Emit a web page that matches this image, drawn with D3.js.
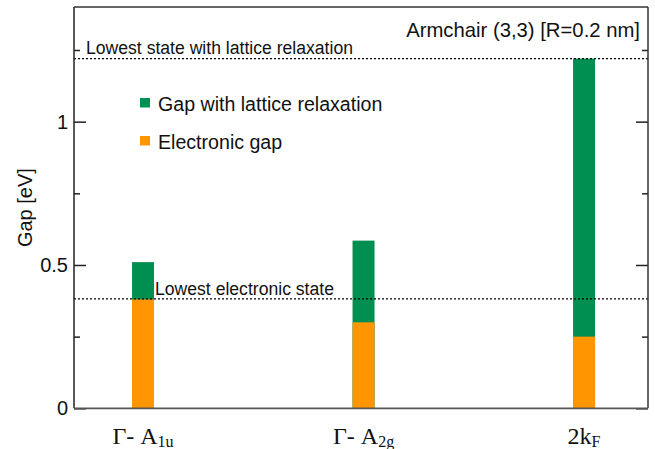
<!DOCTYPE html>
<html><head><meta charset="utf-8">
<script src="https://cdn.jsdelivr.net/npm/d3@7"></script>
<style>body{margin:0;background:#fff}svg{display:block}</style>
</head><body>
<script>
const labelMain = ["Γ- A", "Γ- A", "2k"];
const labelSub = ["1u", "2g", "F"];
const positions = [1, 2, 3];
const electronicGap = [0.38, 0.30, 0.25];
const relaxedGap = [0.51, 0.585, 1.22];
const lowestElectronic = 0.382;
const lowestRelaxed = 1.22;
const yMajorTicks = [0, 0.5, 1];
const yMinorTicks = [0.25, 0.75, 1.25];
const legendLabels = ["Gap with lattice relaxation", "Electronic gap"];
const colors = {green: "#008f50", orange: "#ff9500"};

const W = 655, H = 449;
const L = 74, R = 648, T = 7, B = 408.3;
const svg = d3.select("body").append("svg").attr("width", W).attr("height", H);
const x = d3.scaleLinear().domain([0.687, 3.29]).range([L, R]);
const y = d3.scaleLinear().domain([0, 1.4]).range([B, T]);
const font = "'Liberation Sans', Arial, Helvetica, sans-serif";
const barW = 22;

// bars
const g = svg.append("g");
g.selectAll("rect.gr").data(positions).enter().append("rect")
  .attr("x", (d) => x(d) - barW / 2).attr("width", barW)
  .attr("y", (d, i) => y(relaxedGap[i])).attr("height", (d, i) => y(0) - y(relaxedGap[i]))
  .attr("fill", colors.green);
g.selectAll("rect.or").data(positions).enter().append("rect")
  .attr("x", (d) => x(d) - barW / 2).attr("width", barW)
  .attr("y", (d, i) => y(electronicGap[i])).attr("height", (d, i) => y(0) - y(electronicGap[i]))
  .attr("fill", colors.orange);

// reference dotted lines
[lowestRelaxed, lowestElectronic].forEach(v => {
  svg.append("line").attr("x1", L).attr("x2", R).attr("y1", y(v)).attr("y2", y(v))
    .attr("stroke", "#000").attr("stroke-width", 1.2).attr("stroke-dasharray", "2,2");
});
svg.append("text").attr("x", 86).attr("y", y(lowestRelaxed) - 5)
  .attr("font-family", font).attr("font-size", 17.6).attr("fill", "#111")
  .text("Lowest state with lattice relaxation");
svg.append("text").attr("x", 155).attr("y", y(lowestElectronic) - 4)
  .attr("font-family", font).attr("font-size", 17.6).attr("fill", "#111")
  .text("Lowest electronic state");

// frame
const yAxisL = d3.axisRight(y).tickValues(yMajorTicks).tickSize(12).tickFormat("");
const yAxisLm = d3.axisRight(y).tickValues(yMinorTicks).tickSize(6).tickFormat("");
const yAxisR = d3.axisLeft(y).tickValues(yMajorTicks).tickSize(12).tickFormat("");
const yAxisRm = d3.axisLeft(y).tickValues(yMinorTicks).tickSize(6).tickFormat("");
[[yAxisL, L], [yAxisLm, L], [yAxisR, R], [yAxisRm, R]].forEach(([ax, px]) => {
  const a = svg.append("g").attr("transform", `translate(${px},0)`).call(ax);
  a.select(".domain").remove();
  a.selectAll("line").attr("stroke", "#222").attr("stroke-width", 1.5);
});
svg.append("line").attr("x1", L).attr("x2", L).attr("y1", T).attr("y2", B).attr("stroke", "#222").attr("stroke-width", 1.5);
svg.append("line").attr("x1", R).attr("x2", R).attr("y1", T).attr("y2", B).attr("stroke", "#333").attr("stroke-width", 1.5);
svg.append("line").attr("x1", L).attr("x2", R).attr("y1", T).attr("y2", T).attr("stroke", "#333").attr("stroke-width", 1.5);
svg.append("line").attr("x1", L).attr("x2", R).attr("y1", B).attr("y2", B).attr("stroke", "#555").attr("stroke-width", 1.8);

// y tick labels
svg.selectAll("text.yt").data(yMajorTicks).enter().append("text")
  .attr("x", 68).attr("y", d => y(d) + 7).attr("text-anchor", "end")
  .attr("font-family", font).attr("font-size", 20).attr("fill", "#111")
  .text(d => d3.format("")(d));

// y label
svg.append("text").attr("transform", `translate(32,${(T + B) / 2}) rotate(-90)`)
  .attr("text-anchor", "middle").attr("font-family", font).attr("font-size", 20).attr("fill", "#111")
  .text("Gap [eV]");

// title
svg.append("text").attr("x", 640).attr("y", 37).attr("text-anchor", "end")
  .attr("font-family", font).attr("font-size", 20.3).attr("fill", "#111")
  .text("Armchair (3,3) [R=0.2 nm]");

// legend
const legColors = [colors.green, colors.orange];
const leg = svg.selectAll("g.leg").data(legendLabels).enter().append("g")
  .attr("transform", (d, i) => `translate(140,${98 + i * 38})`);
leg.append("rect").attr("width", 10).attr("height", 9.5).attr("fill", (d, i) => legColors[i]);
leg.append("text").attr("x", 18).attr("y", 12.5).attr("font-family", font).attr("font-size", 19.6)
  .attr("fill", "#111").text(d => d);

// x labels
const xl = svg.selectAll("text.xl").data(positions).enter().append("text")
  .attr("x", d => x(d)).attr("y", 444).attr("text-anchor", "middle")
  .attr("font-family", "'Liberation Serif', 'Times New Roman', serif").attr("font-size", 24).attr("fill", "#111");
xl.append("tspan").text((d, i) => labelMain[i]);
xl.append("tspan").attr("font-size", 16).attr("dy", 3).text((d, i) => labelSub[i]);
</script>
</body></html>
